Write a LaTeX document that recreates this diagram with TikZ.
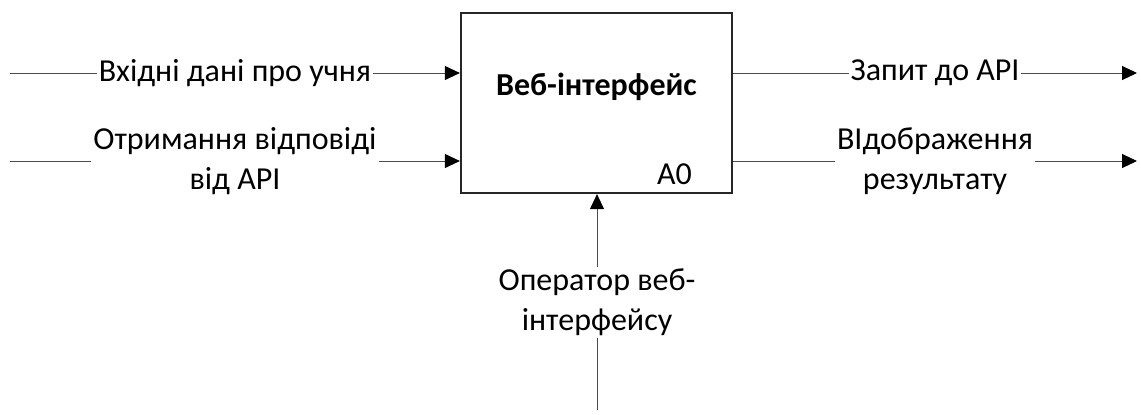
\documentclass[tikz,border=0pt]{standalone}
\usepackage{fontspec}
\setmainfont{Carlito}
\usetikzlibrary{arrows.meta}
\tikzset{
  flow/.style={draw=black!70,line width=0.5pt,-{Triangle[length=7.5pt,width=7pt,fill=black,color=black]}},
  lbl/.style={fill=white,inner sep=1pt,align=center,font=\fontsize{16pt}{20pt}\selectfont},
  func/.style={draw=black!85,line width=1.1pt,minimum width=135.5pt,minimum height=90pt,inner sep=0pt}
}
\begin{document}
\begin{tikzpicture}[x=0.5pt,y=-0.5pt]
\useasboundingbox (0,0) rectangle (1141,414);
% function block A0
\node[func] (box) at (596.5,103) {};
\node[anchor=base,font=\fontsize{16pt}{20pt}\selectfont\bfseries] (title) at (596.5,95) {Веб-інтерфейс};
\node[anchor=base east,font=\fontsize{16pt}{20pt}\selectfont] (num) at (699,184) {A0};
% inputs
\coordinate (in1) at (10,73);
\coordinate (in2) at (10,161);
\draw[flow] (in1) -- node[lbl] (inlbl1) {Вхідні дані про учня} (in1 -| box.west);
\draw[flow] (in2) -- node[lbl] (inlbl2) {Отримання відповіді\\від API} (in2 -| box.west);
% outputs
\coordinate (out1) at (1137,73);
\coordinate (out2) at (1137,161);
\draw[flow] (out1 -| box.east) -- node[lbl] (outlbl1) {Запит до API} (out1);
\draw[flow] (out2 -| box.east) -- node[lbl] (outlbl2) {ВІдображення\\результату} (out2);
% mechanism
\coordinate (mech) at (597,410);
\draw[flow] (mech) -- node[lbl] (mechlbl) {Оператор веб-\\інтерфейсу} (mech |- box.south);
\end{tikzpicture}
\end{document}
